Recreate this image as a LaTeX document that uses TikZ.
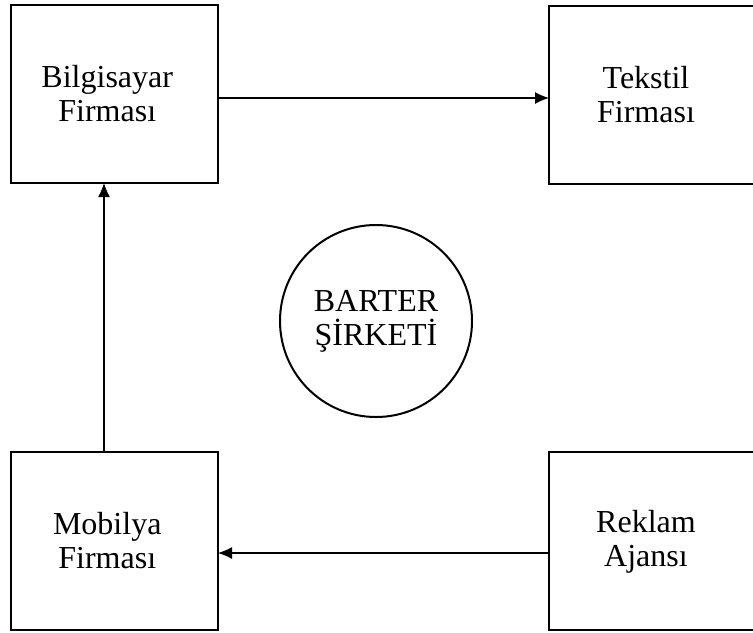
\documentclass[tikz,border=0pt]{standalone}
\usepackage{amsmath,amssymb}
\usepackage{fontspec}
\setmainfont{Liberation Serif}
\usetikzlibrary{arrows.meta}
\tikzset{
  firm/.style={draw,line width=1pt,minimum width=103.75pt,minimum height=89pt,inner sep=0pt,outer sep=0pt},
  firmtext/.style={align=center,font=\fontsize{16}{17}\selectfont,xshift=-3.5pt},
  flow/.style={line width=.6pt,-{Latex[length=7pt,width=6pt]}}
}

\begin{document}
\begin{tikzpicture}[x=.5pt,y=-.5pt]
    \useasboundingbox (0,0) rectangle (753,632);
    % the four firms
    \node[firm,label={[firmtext]center:{Bilgisayar\\Firması}}] (bil) at (114.25,94) {};
    \node[firm,minimum width=104pt,label={[firmtext]center:{Tekstil\\Firması}}] (tek) at (653,94.75) {};
    \node[firm,label={[firmtext]center:{Mobilya\\Firması}}] (mob) at (114.25,541) {};
    \node[firm,minimum width=104pt,label={[firmtext]center:{Reklam\\Ajansı}}] (rek) at (653,541.4) {};
    % barter company
    \node[draw,circle,line width=1pt,minimum size=96pt,inner sep=0pt,align=center,
          font=\fontsize{16}{17}\selectfont] (bar) at (376,321) {BARTER\\ŞİRKETİ};
    % flows
    \coordinate (vx) at (104,0);
    \coordinate (ty) at (0,98);
    \coordinate (by) at (0,553);
    \draw[flow] (bil.east |- ty) -- (tek.west |- ty);
    \draw[flow] (rek.west |- by) -- (mob.east |- by);
    \draw[flow] (vx |- mob.north) -- (vx |- bil.south);
\end{tikzpicture}
\end{document}
